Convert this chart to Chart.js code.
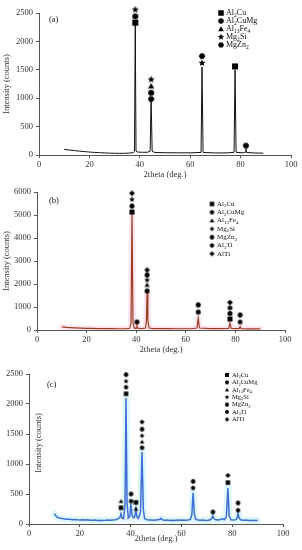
<!DOCTYPE html>
<html>
<head>
<meta charset="utf-8">
<script src="https://cdn.jsdelivr.net/npm/chart.js@4/dist/chart.umd.min.js"></script>
<style>
body { margin: 0; background: #fff; width: 302px; height: 550px; position: relative; overflow: hidden; }
canvas { position: absolute; left: 0; }
</style>
</head>
<body>
<canvas id="chartA" width="302" height="180" style="top:0"></canvas>
<canvas id="chartB" width="302" height="175" style="top:180px"></canvas>
<canvas id="chartC" width="302" height="184" style="top:360px"></canvas>
<script>
// panel (a)
const aTheta = [10,12,14,16,18,20,22,24,26,28,30,32,34,36,37.5,37.9,38.2,38.5,39.2,41,43,44.1,44.5,44.9,46,50,55,60,64.3,64.7,65.1,70,75,77.4,77.8,78.2,81,81.8,82.1,82.4,86,89];
const aCounts = [100,88,78,68,60,52,46,41,37,33,30,29,30,34,42,70,2300,70,52,48,48,65,1000,65,44,40,38,38,45,1550,45,36,38,48,1500,48,38,50,110,45,34,34];
const aPhases = ['Al2Cu','Al2CuMg','Al13Fe4','Mg2Si','MgZn2'];
const aMarkTheta = [38.2,38.2,38.2,44.5,44.5,44.5,44.5,64.7,64.7,77.8,82.1];
const aMarkCounts = [2330,2440,2560,985,1095,1215,1330,1620,1740,1560,165];
const aMarkPhase = ['Al2Cu','Al2CuMg','Mg2Si','MgZn2','Al2CuMg','Al13Fe4','Mg2Si','Mg2Si','MgZn2','Al2Cu','MgZn2'];

// panel (b)
const bTheta = [10,12,15,18,20,22,25,28,30,33,36,37.4,37.9,38.3,38.7,39.3,40.0,40.3,40.6,42,43.8,44.1,44.4,44.7,45.2,47,52,58,62,64.5,65,65.5,70,75,77.3,77.8,78.3,81.5,81.9,82.3,86,90];
const bCounts = [140,115,95,80,72,68,62,58,56,55,58,75,300,5100,300,75,80,200,80,62,85,400,1650,400,85,62,56,55,55,85,520,85,58,56,70,300,70,60,150,60,52,50];
const bcPhases = ['Al2Cu','Al2CuMg','Al13Fe4','Mg2Si','MgZn2','Al3Ti','AlTi'];
const bMarkTheta = [38.3,38.3,38.3,38.3,40.3,44.4,44.4,44.4,44.4,44.4,65,65,77.8,77.8,77.8,77.8,81.9,81.9];
const bMarkCounts = [5130,5390,5680,5950,350,1700,1960,2175,2390,2610,780,1090,480,720,960,1200,350,650];
const bMarkPhase = ['Al2Cu','MgZn2','Mg2Si','AlTi','Al2CuMg','Al2CuMg','Al13Fe4','Mg2Si','MgZn2','AlTi','Al2CuMg','MgZn2','Al2Cu','Al2CuMg','Al3Ti','AlTi','Al3Ti','MgZn2'];

// panel (c)
const cTheta = [10,10.5,11,12,13,14,15,16,17,18,19,20,21,22,23,24,25,26,27,28,29,30,31,32,33,34,35,35.8,36.2,36.6,37.2,37.8,38.2,38.6,39.1,39.7,40.1,40.6,41.3,41.7,42.1,42.5,43.1,43.9,44.5,45.0,45.5,46.5,47.5,48.5,49.5,50.5,51.5,52,52.5,53.5,54.5,55.5,56.5,57.5,58.5,59.5,60.5,61.5,62.5,63.5,64.1,64.6,65.1,65.7,66.5,67.5,68.5,69.5,70.5,71.5,72,72.4,72.8,73.5,74.5,75.5,76.2,76.8,77.7,78.3,78.8,79.5,80.5,81.5,82,82.3,82.7,83.5,84.5,85.5,86.5,87.5,88.5,89.5,90];
const cCounts = [170,140,115,100,90,85,80,78,72,75,70,68,72,66,70,64,62,66,60,63,60,62,65,62,68,70,85,110,170,100,90,300,2100,350,100,130,340,140,100,130,250,120,95,200,1200,250,90,70,65,68,62,70,75,95,70,62,66,60,64,60,65,62,66,62,68,75,150,520,160,75,65,62,66,60,64,70,100,135,90,70,65,75,90,70,120,600,140,70,65,72,110,180,100,68,62,66,60,64,60,62,60];
const cMarkTheta = [36.2,36.2,38.2,38.2,38.2,38.2,38.2,40.2,40.2,42.1,42.1,44.5,44.5,44.5,44.5,44.5,64.6,64.6,72.4,78.3,78.3,82.3,82.3];
const cMarkCounts = [270,380,2170,2280,2380,2490,2620,380,500,250,360,1270,1370,1470,1580,1700,600,710,200,690,810,230,350];
const cMarkPhase = ['Al2Cu','Al13Fe4','Al2Cu','Al3Ti','Mg2Si','MgZn2','AlTi','Al2CuMg','MgZn2','Al13Fe4','Al2Cu','Al2CuMg','Al13Fe4','Mg2Si','MgZn2','AlTi','Al3Ti','MgZn2','MgZn2','Al2Cu','AlTi','Al3Ti','MgZn2'];

const xTicks = [0, 20, 40, 60, 80, 100];

const SYM = { Al2Cu: 'square', Al2CuMg: 'circle', Al13Fe4: 'triangle', Mg2Si: 'star', MgZn2: 'hexagon', Al3Ti: 'pentagon', AlTi: 'diamond' };
const SERIF = '"Liberation Serif", "Times New Roman", serif';
Chart.defaults.font.family = SERIF;

const glyphCache = {};
function glyph(kind, s) {
    const key = kind + s;
    if (glyphCache[key]) return glyphCache[key];
    const c = document.createElement('canvas');
    c.width = c.height = Math.ceil(s) + 2;
    const g = c.getContext('2d');
    const m = c.width / 2, r = s / 2;
    g.fillStyle = '#000';
    g.beginPath();
    if (kind === 'square') {
        g.rect(m - r, m - r, s, s);
    } else if (kind === 'circle') {
        g.arc(m, m, r, 0, Math.PI * 2);
    } else {
        let n = 0, start = -Math.PI / 2, rr = r * 1.1;
        if (kind === 'triangle') n = 3, rr = r * 1.2;
        if (kind === 'diamond') n = 4, rr = r * 1.15;
        if (kind === 'pentagon') n = 5;
        if (kind === 'hexagon') n = 6, start = 0;
        if (kind === 'star') {
            for (let i = 0; i < 10; i++) {
                const a = -Math.PI / 2 + i * Math.PI / 5;
                const q = i % 2 ? r * 0.55 : r * 1.25;
                g.lineTo(m + q * Math.cos(a), m + q * Math.sin(a));
            }
        } else {
            for (let i = 0; i < n; i++) {
                const a = start + i * 2 * Math.PI / n;
                g.lineTo(m + rr * Math.cos(a), m + rr * Math.sin(a) + (kind === 'triangle' ? r * 0.2 : 0));
            }
        }
        g.closePath();
    }
    g.fill();
    glyphCache[key] = c;
    return c;
}

function drawFormula(ctx, text, x, y, size) {
    for (const ch of text) {
        const sub = /[0-9]/.test(ch);
        ctx.font = (sub ? size * 0.7 : size) + 'px ' + SERIF;
        ctx.fillText(ch, x, sub ? y + size * 0.3 : y);
        x += ctx.measureText(ch).width;
    }
}

const overlay = {
    id: 'overlay',
    afterDraw(chart, args, o) {
        const ctx = chart.ctx;
        ctx.save();
        ctx.fillStyle = '#111';
        ctx.textBaseline = 'middle';
        ctx.textAlign = 'left';
        ctx.font = '8.5px ' + SERIF;
        ctx.fillText(o.tag, o.tagX, o.tagY);
        o.phases.forEach((p, i) => {
            const y = o.legY + i * o.legStep;
            const img = glyph(SYM[p], o.legGlyph);
            ctx.drawImage(img, o.legX - img.width / 2, y - img.height / 2);
            drawFormula(ctx, p, o.legX + 5, y, o.legSize);
        });
        if (o.yTitle) {
            ctx.translate(o.yTitleX, o.yTitleY);
            ctx.rotate(-Math.PI / 2);
            ctx.textAlign = 'center';
            ctx.fillStyle = '#333';
            ctx.font = '8.5px ' + SERIF;
            ctx.fillText('Intensity (counts)', 0, 0);
        }
        ctx.restore();
    }
};

function xy(xs, ys) {
    return xs.map((x, i) => ({ x: x, y: ys[i] }));
}

function panel(id, o) {
    const tickFont = { size: 8.5, family: SERIF };
    const datasets = [];
    if (o.band) {
        datasets.push({
            type: 'line', data: xy(o.theta, o.counts), borderColor: o.band,
            borderWidth: o.bandWidth, pointRadius: 0, borderJoinStyle: 'round',
            borderCapStyle: 'round', order: 3
        });
    }
    datasets.push({
        type: 'line', data: xy(o.theta, o.counts), borderColor: o.color,
        borderWidth: o.lineWidth, pointRadius: 0, order: 2
    });
    datasets.push({
        type: 'scatter', data: xy(o.markTheta, o.markCounts),
        pointStyle: o.markPhase.map(p => glyph(SYM[p], o.markSize)),
        pointRadius: o.markSize / 2, clip: false, order: 1
    });

    new Chart(document.getElementById(id), {
        type: 'line',
        data: { datasets: datasets },
        options: {
            responsive: false,
            animation: false,
            events: [],
            layout: { padding: { top: o.padT, right: o.padR, left: 0, bottom: 0 } },
            plugins: { legend: { display: false }, tooltip: { enabled: false }, overlay: o.overlay },
            scales: {
                x: {
                    type: 'linear', min: 0, max: 100,
                    afterBuildTicks: s => { s.ticks = xTicks.map(v => ({ value: v })); },
                    ticks: { font: tickFont, color: '#333', padding: 2, maxRotation: 0, callback: v => String(v) },
                    grid: { drawOnChartArea: false, tickLength: 3, color: '#555' },
                    border: { color: '#555' },
                    title: { display: true, text: '2theta (deg.)', font: tickFont, color: '#333', padding: { top: 2, bottom: 0 } },
                    afterFit: s => { s.height = o.xH; }
                },
                y: {
                    min: 0, max: o.yMax,
                    ticks: { stepSize: o.yStep, font: tickFont, color: '#333', padding: 3, callback: v => String(v) },
                    grid: { drawOnChartArea: false, tickLength: 3, color: '#555' },
                    border: { color: '#555' },
                    title: { display: o.yTitleAxis, text: 'Intensity (counts)', font: tickFont, color: '#333', padding: { top: 2, bottom: 0 } },
                    afterFit: s => { s.width = o.yW; }
                }
            }
        },
        plugins: [overlay]
    });
}

panel('chartA', {
    theta: aTheta, counts: aCounts, markTheta: aMarkTheta, markCounts: aMarkCounts, markPhase: aMarkPhase,
    color: '#111', lineWidth: 1, markSize: 6,
    yMax: 2500, yStep: 500, yW: 39, xH: 25, padT: 13, padR: 11, yTitleAxis: true,
    overlay: { tag: '(a)', tagX: 49, tagY: 20, phases: aPhases, legX: 221, legY: 13, legStep: 8, legSize: 8, legGlyph: 5.5 }
});

panel('chartB', {
    theta: bTheta, counts: bCounts, markTheta: bMarkTheta, markCounts: bMarkCounts, markPhase: bMarkPhase,
    color: '#9c3b22', lineWidth: 1.2, band: 'rgba(250, 215, 232, 0.6)', bandWidth: 6, markSize: 5,
    yMax: 6000, yStep: 1000, yW: 37, xH: 25, padT: 12, padR: 17, yTitleAxis: true,
    overlay: { tag: '(b)', tagX: 49, tagY: 21, phases: bcPhases, legX: 212, legY: 24, legStep: 8.3, legSize: 7, legGlyph: 4.5 }
});

panel('chartC', {
    theta: cTheta, counts: cCounts, markTheta: cMarkTheta, markCounts: cMarkCounts, markPhase: cMarkPhase,
    color: '#3f6fd6', lineWidth: 1.5, band: 'rgba(212, 244, 251, 0.75)', bandWidth: 7, markSize: 4.5,
    yMax: 2500, yStep: 500, yW: 29, xH: 20, padT: 14, padR: 19, yTitleAxis: false,
    overlay: { tag: '(c)', tagX: 47, tagY: 25, phases: bcPhases, legX: 227, legY: 15, legStep: 7.4, legSize: 6.5, legGlyph: 4,
        yTitle: true, yTitleX: 39, yTitleY: 83 }
});
</script>
</body>
</html>
